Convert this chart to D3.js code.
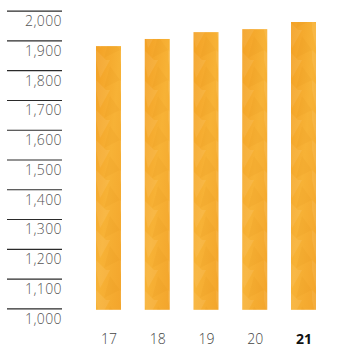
<!DOCTYPE html>
<html>
<head>
<meta charset="utf-8">
<script src="https://cdn.jsdelivr.net/npm/d3@7/dist/d3.min.js"></script>
<style>
  html, body { margin: 0; padding: 0; background: #fff; }
  svg { display: block; }
</style>
</head>
<body>
<svg id="chart" width="337" height="350"></svg>
<script>
const years = ["17", "18", "19", "20", "21"];
const values = [1881, 1905, 1928, 1938, 1962];
const yTicks = [1000, 1100, 1200, 1300, 1400, 1500, 1600, 1700, 1800, 1900, 2000];
const highlightYear = "21";

const svg = d3.select("#chart");
const y = d3.scaleLinear().domain([1000, 2000]).range([308.3, 10.7]);
const x = d3.scalePoint().domain(years).range([108.5, 303.5]);
const barW = 25;

const defs = svg.append("defs");
const grad = defs.append("linearGradient").attr("id", "barGrad")
  .attr("x1", "0").attr("y1", "0").attr("x2", "1").attr("y2", "1");
grad.append("stop").attr("offset", "0%").attr("stop-color", "#F3A125");
grad.append("stop").attr("offset", "50%").attr("stop-color", "#F7B236");
grad.append("stop").attr("offset", "100%").attr("stop-color", "#F3A52C");

// subtle mottled texture
const pat = defs.append("pattern").attr("id", "barTex")
  .attr("patternUnits", "userSpaceOnUse").attr("width", 24).attr("height", 30);
pat.append("polygon").attr("points", "0,0 14,0 4,18").attr("fill", "#fff").attr("opacity", 0.08);
pat.append("polygon").attr("points", "14,6 24,20 8,28").attr("fill", "#E08A10").attr("opacity", 0.12);
pat.append("polygon").attr("points", "0,20 10,30 0,30").attr("fill", "#fff").attr("opacity", 0.07);

// y axis: gridline segments with labels below them
const yAxis = d3.axisLeft(y).tickValues(yTicks).tickSize(55).tickFormat(d3.format(","));
const gy = svg.append("g").attr("transform", "translate(62,0)").call(yAxis);
gy.select(".domain").remove();
gy.selectAll(".tick line").attr("stroke", "#2a2a2a").attr("stroke-width", 1.2)
  .attr("x1", -55).attr("x2", 0);
gy.selectAll(".tick text")
  .attr("x", 0).attr("dy", 0).attr("y", 14.8)
  .attr("text-anchor", "end")
  .attr("fill", "#555")
  .style("font-family", "'Open Sans', sans-serif")
  .style("font-weight", 300)
  .style("font-size", "14px")
  .style("letter-spacing", "0.4px");

// bars
const bars = svg.append("g");
bars.selectAll("rect.b").data(years).join("rect").attr("class", "b")
  .attr("x", (d) => x(d) - barW / 2)
  .attr("y", (d, i) => y(values[i]))
  .attr("width", barW)
  .attr("height", (d, i) => y(1000) + 1.5 - y(values[i]))
  .attr("fill", "url(#barGrad)");
bars.selectAll("rect.t").data(years).join("rect").attr("class", "t")
  .attr("x", (d) => x(d) - barW / 2)
  .attr("y", (d, i) => y(values[i]))
  .attr("width", barW)
  .attr("height", (d, i) => y(1000) + 1.5 - y(values[i]))
  .attr("fill", "url(#barTex)");

// x axis labels
const xAxis = d3.axisBottom(x).tickSize(0).tickPadding(0);
const gx = svg.append("g").attr("transform", "translate(0,334)").call(xAxis);
gx.select(".domain").remove();
gx.selectAll(".tick text")
  .attr("fill", (d) => d === highlightYear ? "#111" : "#444")
  .style("font-weight", (d) => d === highlightYear ? 700 : 300)
  .style("font-family", "'Open Sans', sans-serif")
  .style("font-size", "14px");
</script>
</body>
</html>
